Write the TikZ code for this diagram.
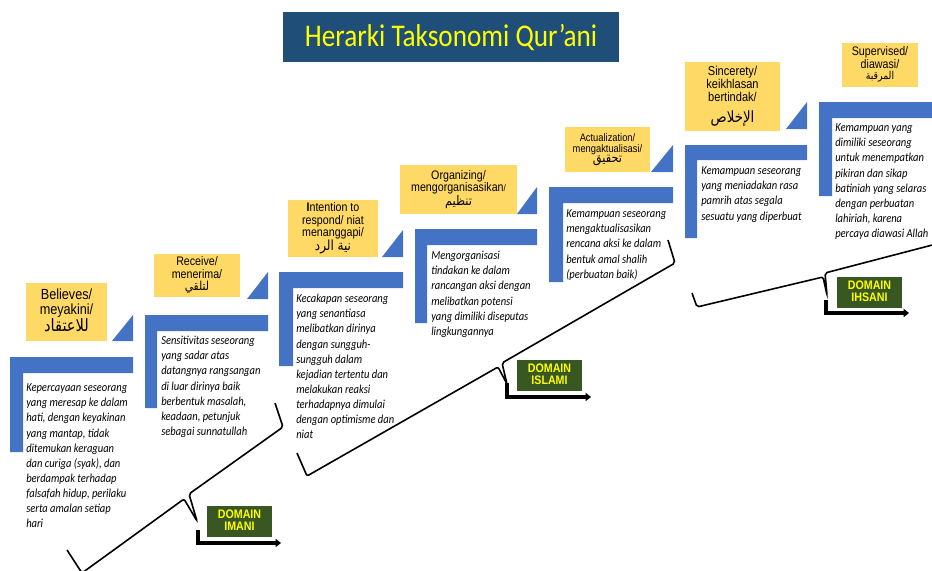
\documentclass[tikz,border=0pt]{standalone}
\usepackage{fontspec}
\usepackage{graphicx}
\setmainfont{Carlito}
\newfontfamily\arialfont{Liberation Sans}
\newfontfamily\arabicfont[Script=Arabic]{DejaVu Sans}
\TeXXeTstate=1
\usetikzlibrary{positioning, arrows.meta}

\definecolor{stepblue}{HTML}{4472C4}
\definecolor{labyellow}{HTML}{FFD966}
\definecolor{titleblue}{HTML}{1F4E79}
\definecolor{domgreen}{HTML}{385723}
\definecolor{txtyellow}{HTML}{FFFF00}

% text in the reference is a little taller than wide
\newcommand{\tall}[1]{\scalebox{1}[1.16]{#1}}
\newcommand{\tallrows}[2][c]{\tall{\begin{tabular}{@{}#1@{}}#2\end{tabular}}}
\newcommand{\ar}[1]{{\arabicfont\beginR #1\endR}}

\begin{document}
\begin{tikzpicture}[x=0.75pt, y=-0.75pt, >={Triangle[length=4pt, width=6pt]},
    stepbar/.style={fill=stepblue},
    labbox/.style={fill=labyellow, inner sep=0pt, font=\arialfont\fontsize{8}{7.6}\selectfont},
    desc/.style={anchor=north west, inner sep=0pt, font=\fontsize{7.9}{9.75}\selectfont\itshape},
    titlebox/.style={fill=titleblue, text=txtyellow, inner sep=0pt, minimum width=252pt, minimum height=37.5pt, font=\fontsize{20.4}{24}\selectfont},
    domainbox/.style={fill=domgreen, text=txtyellow, inner sep=0pt, minimum width=48.75pt, minimum height=23.25pt, font=\arialfont\bfseries\fontsize{8}{7.1}\selectfont},
    domarrow/.style={->, line width=2.6pt},
    bracket/.style={line width=1.2pt, rounded corners=1.5pt}]
  \useasboundingbox (0,0) rectangle (932,571);
  \clip (0,0) rectangle (932,571);

  % title
  \node[titlebox] (title) at (451,37) {\tall{Herarki Taksonomi Qur’ani}};

  % blue steps
  \fill[stepbar] (10,357) -- ++(123,0) -- ++(0,16) -- ++(-110,0) -- ++(0,79) -- ++(-13,0) -- cycle;
  \fill[stepbar] (112,341) -- ++(21,-26) -- ++(0,26) -- cycle;
  \fill[stepbar] (145,315) -- ++(123,0) -- ++(0,16) -- ++(-111,0) -- ++(0,77) -- ++(-12,0) -- cycle;
  \fill[stepbar] (247,299) -- ++(21,-27) -- ++(0,27) -- cycle;
  \fill[stepbar] (279,272) -- ++(124,0) -- ++(0,16) -- ++(-110,0) -- ++(0,78) -- ++(-14,0) -- cycle;
  \fill[stepbar] (382,257) -- ++(21,-27) -- ++(0,27) -- cycle;
  \fill[stepbar] (415,229) -- ++(122,0) -- ++(0,16) -- ++(-110,0) -- ++(0,78) -- ++(-12,0) -- cycle;
  \fill[stepbar] (517,214) -- ++(20,-27) -- ++(0,27) -- cycle;
  \fill[stepbar] (549,187) -- ++(124,0) -- ++(0,16) -- ++(-110,0) -- ++(0,79) -- ++(-14,0) -- cycle;
  \fill[stepbar] (651,172) -- ++(22,-27) -- ++(0,27) -- cycle;
  \fill[stepbar] (685,145) -- ++(122,0) -- ++(0,15) -- ++(-110,0) -- ++(0,78) -- ++(-12,0) -- cycle;
  \fill[stepbar] (786,129) -- ++(21,-27) -- ++(0,27) -- cycle;
  \fill[stepbar] (819,102) -- ++(113,0) -- ++(0,16) -- ++(-100,0) -- ++(0,78) -- ++(-13,0) -- cycle;

  % yellow labels
  \node[labbox, minimum width=60.75pt, minimum height=43.5pt, font=\arialfont\fontsize{9.5}{8.8}\selectfont] (believe) at (66.5,312)
    {\tallrows{Believes/\\meyakini/\\{\fontsize{11}{10}\selectfont\ar{للاعتقاد}}}};
  \node[labbox, minimum width=64.5pt, minimum height=32.25pt] (receive) at (197,275.5)
    {\tallrows{Receive/\\menerima/\\\ar{لتلقي}}};
  \node[labbox, minimum width=67.5pt, minimum height=42.75pt] (respond) at (333,228.5)
    {\tallrows{{\bfseries I}ntention to\\respond/ niat\\menanggapi/\\{\fontsize{9}{8}\selectfont\ar{نية الرد}}}};
  \node[labbox, minimum width=87.75pt, minimum height=36.75pt] (organize) at (458.5,189.5)
    {\tallrows{Organizing/\\mengorganisasikan{\fontsize{6}{6}\selectfont/}\\{\fontsize{8.5}{8}\selectfont\ar{تنظيم}}}};
  \node[labbox, minimum width=63.75pt, minimum height=33.75pt, font=\arialfont\fontsize{7}{6.8}\selectfont] (actual) at (607.5,149.5)
    {\tallrows{Actualization/\\mengaktualisasi/\\{\fontsize{8.5}{8}\selectfont\ar{تحقيق}}}};
  \node[labbox, minimum width=71.25pt, minimum height=51.75pt, font=\arialfont\fontsize{8.3}{7.6}\selectfont] (sincere) at (732.5,96.5)
    {\tallrows{Sincerety/\\keikhlasan\\bertindak/\\[4pt]{\fontsize{10}{9}\selectfont\ar{الإخلاص}}}};
  \node[labbox, minimum width=57pt, minimum height=33pt] (supervise) at (880,65)
    {\tallrows{Supervised/\\diawasi/\\{\fontsize{7}{7}\selectfont\ar{المرقبة}}}};

  % descriptions
  \node[desc] (believetxt) at (26,381) {\tallrows[l]{Kepercayaan seseorang\\yang meresap ke dalam\\hati, dengan keyakinan\\yang mantap, tidak\\ditemukan keraguan\\dan curiga (syak), dan\\berdampak terhadap\\falsafah hidup, perilaku\\serta amalan setiap\\hari}};
  \node[desc] (receivetxt) at (161,334) {\tallrows[l]{Sensitivitas seseorang\\yang sadar atas\\datangnya rangsangan\\di luar dirinya baik\\berbentuk masalah,\\keadaan, petunjuk\\sebagai sunnatullah}};
  \node[desc] (respondtxt) at (296,292) {\tallrows[l]{Kecakapan seseorang\\yang senantiasa\\melibatkan dirinya\\dengan sungguh-\\sungguh dalam\\kejadian tertentu dan\\melakukan reaksi\\terhadapnya dimulai\\dengan optimisme dan\\niat}};
  \node[desc] (organizetxt) at (431,249) {\tallrows[l]{Mengorganisasi\\tindakan ke dalam\\rancangan aksi dengan\\melibatkan potensi\\yang dimiliki diseputas\\lingkungannya}};
  \node[desc] (actualtxt) at (566,207) {\tallrows[l]{Kemampuan seseorang\\mengaktualisasikan\\rencana aksi ke dalam\\bentuk amal shalih\\(perbuatan baik)}};
  \node[desc] (sinceretxt) at (701,164) {\tallrows[l]{Kemampuan seseorang\\yang meniadakan rasa\\pamrih atas segala\\sesuatu yang diperbuat}};
  \node[desc] (supervisetxt) at (835,121) {\tallrows[l]{Kemampuan yang\\dimiliki seseorang\\untuk menempatkan\\pikiran dan sikap\\batiniah yang selaras\\dengan perbuatan\\lahiriah, karena\\percaya diawasi Allah}};

  % braces grouping the steps
  \draw[bracket] (67,550) -- (82,573) -- (184,499) -- (197,521) -- (189,494) -- (283,427) -- (275,403);
  \draw[bracket] (297,453) -- (307,476) -- (498,367) -- (507,384) -- (502,363) -- (675,263) -- (668,240);
  \draw[bracket] (692,293) -- (697,307) -- (823,277) -- (827,295) -- (825,273) -- (940,243);

  % domains
  \node[domainbox] (imani) at (239.5,521.5) {\tallrows{DOMAIN\\IMANI}};
  \node[domainbox] (islami) at (549.5,375.5) {\tallrows{DOMAIN\\ISLAMI}};
  \node[domainbox] (ihsani) at (869.5,292.5) {\tallrows{DOMAIN\\IHSANI}};
  \coordinate (imanistart) at (198,530);
  \coordinate (imaniend) at (281,543);
  \coordinate (islamistart) at (507,383);
  \coordinate (islamiend) at (591,397);
  \coordinate (ihsanistart) at (826,300);
  \coordinate (ihsaniend) at (909,313);
  \draw[domarrow] (imanistart) |- (imaniend);
  \draw[domarrow] (islamistart) |- (islamiend);
  \draw[domarrow] (ihsanistart) |- (ihsaniend);
\end{tikzpicture}
\end{document}
